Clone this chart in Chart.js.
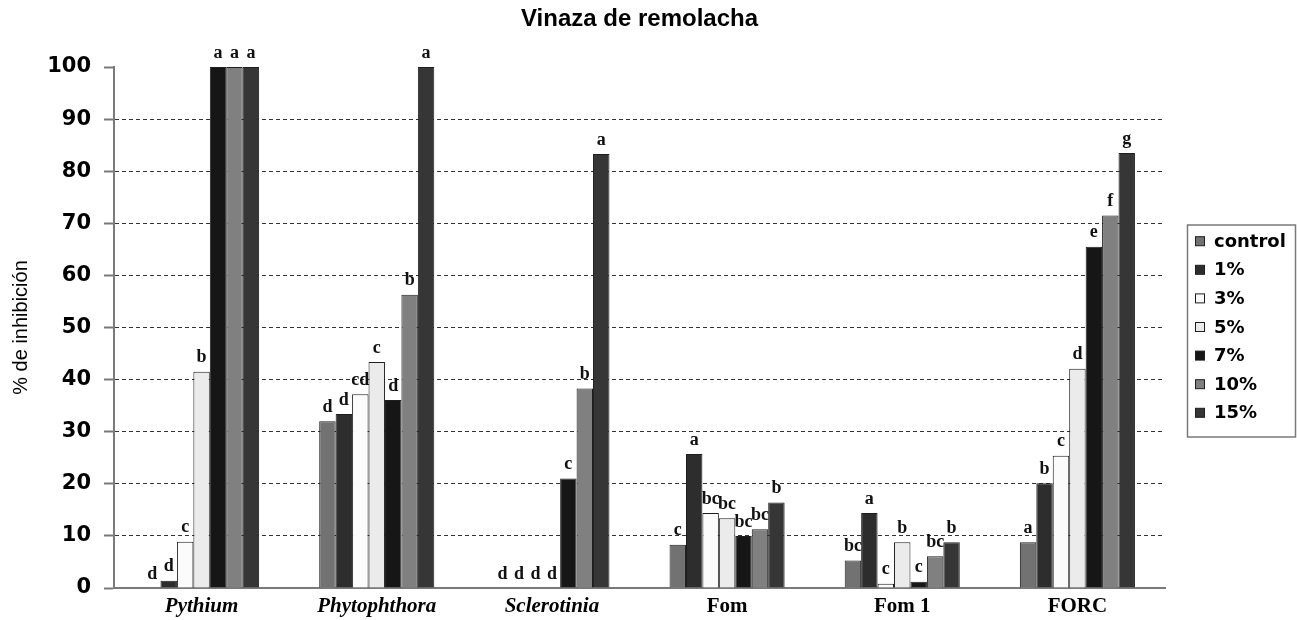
<!DOCTYPE html>
<html>
<head>
<meta charset="utf-8">
<script src="https://cdn.jsdelivr.net/npm/chart.js@4.4.1/dist/chart.umd.min.js"></script>
<style>
  html, body { margin: 0; padding: 0; background: #fff; }
  #wrap { width: 1297px; height: 620px; }
</style>
</head>
<body>
<div id="wrap"><canvas id="c" width="1297" height="620"></canvas></div>
<script>
const chartTitle = 'Vinaza de remolacha';
const categories = ['Pythium', 'Phytophthora', 'Sclerotinia', 'Fom', 'Fom 1', 'FORC'];
const seriesNames = ['control', '1%', '3%', '5%', '7%', '10%', '15%'];

const control = [0, 32.0, 0, 8.3, 5.3, 8.8];
const pct1  = [1.4, 33.4, 0, 25.7, 14.4, 20.1];
const pct3  = [8.9, 37.2, 0, 14.4, 0.8, 25.4];
const pct5  = [41.5, 43.4, 0, 13.4, 8.8, 42.1];
const pct7  = [100, 36.1, 21.0, 10.0, 1.2, 65.5];
const pct10 = [100, 56.3, 38.3, 11.3, 6.1, 71.5];
const pct15 = [100, 100, 83.3, 16.4, 8.8, 83.5];

const letControl = ['d', 'd', 'd', 'c', 'bc', 'a'];
const let1  = ['d', 'd', 'd', 'a', 'a', 'b'];
const let3  = ['c', 'cd', 'd', 'bc', 'c', 'c'];
const let5  = ['b', 'c', 'd', 'bc', 'b', 'd'];
const let7  = ['a', 'd', 'c', 'bc', 'c', 'e'];
const let10 = ['a', 'b', 'b', 'bc', 'bc', 'f'];
const let15 = ['a', 'a', 'a', 'b', 'b', 'g'];

const yTicks = [0, 10, 20, 30, 40, 50, 60, 70, 80, 90, 100];

const seriesValues = [control, pct1, pct3, pct5, pct7, pct10, pct15];
const seriesLetters = [letControl, let1, let3, let5, let7, let10, let15];
const seriesColors = ['#727272', '#2d2d2d', '#fbfbfb', '#ebebeb', '#161616', '#808080', '#363636'];

const datasets = seriesNames.map((name, i) => ({
  label: name,
  data: seriesValues[i],
  letters: seriesLetters[i],
  backgroundColor: seriesColors[i],
  borderColor: '#1e1e1e',
  borderWidth: 1,
  borderSkipped: 'bottom',
  barPercentage: 1.0,
  categoryPercentage: 0.657
}));

const letterPlugin = {
  id: 'letters',
  afterDatasetsDraw(chart) {
    const ctx = chart.ctx;
    ctx.save();
    ctx.font = 'bold 18px "Liberation Serif", "DejaVu Serif", serif';
    ctx.fillStyle = '#111';
    ctx.textAlign = 'center';
    ctx.textBaseline = 'bottom';
    chart.data.datasets.forEach((ds, i) => {
      const meta = chart.getDatasetMeta(i);
      meta.data.forEach((bar, j) => {
        const t = ds.letters[j];
        if (t) ctx.fillText(t, bar.x, bar.y - 5);
      });
    });
    ctx.restore();
  }
};

const titlePlugin = {
  id: 'centerTitle',
  afterDraw(chart) {
    const ctx = chart.ctx;
    const area = chart.chartArea;
    ctx.save();
    ctx.font = 'bold 24px "Liberation Sans", Arial, sans-serif';
    ctx.fillStyle = '#000';
    ctx.textAlign = 'center';
    ctx.textBaseline = 'middle';
    ctx.fillText(chartTitle, (area.left + area.right) / 2, 19);
    ctx.restore();
  }
};

const legendPlugin = {
  id: 'boxLegend',
  afterDraw(chart) {
    const ctx = chart.ctx;
    const area = chart.chartArea;
    const left = area.right + 22;
    const width = 108;
    const rowH = 28.6;
    const height = 212;
    const top = (area.top + area.bottom) / 2 - height / 2 + 3;
    ctx.save();
    ctx.strokeStyle = '#7a7a7a';
    ctx.lineWidth = 1.5;
    ctx.strokeRect(left + 0.5, top + 0.5, width, height);
    ctx.font = 'bold 18px "DejaVu Sans", sans-serif';
    ctx.textBaseline = 'middle';
    ctx.textAlign = 'left';
    chart.data.datasets.forEach((ds, i) => {
      const cy = top + 16.7 + i * rowH;
      ctx.fillStyle = ds.backgroundColor;
      ctx.fillRect(left + 8.5, cy - 4.5, 9, 9);
      ctx.strokeStyle = '#1e1e1e';
      ctx.lineWidth = 1;
      ctx.strokeRect(left + 8.5, cy - 4.5, 9, 9);
      ctx.fillStyle = '#000';
      ctx.fillText(ds.label, left + 27, cy + 1);
    });
    ctx.restore();
  }
};

new Chart(document.getElementById('c'), {
  type: 'bar',
  data: { labels: categories, datasets },
  plugins: [letterPlugin, titlePlugin, legendPlugin],
  options: {
    responsive: false,
    animation: false,
    layout: { padding: { left: 0, right: 132, top: 67, bottom: 0 } },
    plugins: {
      legend: { display: false },
      tooltip: { enabled: false },
      title: { display: false }
    },
    scales: {
      x: {
        afterFit(scale) { scale.height = 32; },
        grid: { display: false, drawTicks: false },
        border: { display: true, color: '#7a7a7a', width: 2 },
        ticks: {
          color: '#000',
          padding: 6,
          font: (c) => ({
            family: '"Liberation Serif", "DejaVu Serif", serif',
            weight: 'bold',
            size: 21,
            style: c.index < 3 ? 'italic' : 'normal'
          })
        }
      },
      y: {
        min: 0,
        max: 100,
        afterBuildTicks(scale) { scale.ticks = yTicks.map(v => ({ value: v })); },
        afterFit(scale) { scale.width = 114; },
        grid: {
          color: (c) => (c.tick && (c.tick.value === 0 || c.tick.value === 100)) ? 'rgba(0,0,0,0)' : '#333333',
          lineWidth: 1,
          tickColor: '#7a7a7a',
          tickLength: 10,
          tickWidth: 2,
          tickBorderDash: []
        },
        border: { display: true, color: '#7a7a7a', width: 2, dash: [4, 3] },
        ticks: {
          color: '#000',
          padding: 13,
          font: { family: '"DejaVu Sans", sans-serif', weight: 'bold', size: 21 }
        },
        title: {
          display: true,
          text: '% de inhibición',
          color: '#000',
          padding: { top: 9, bottom: 0 },
          font: { family: '"Liberation Sans", Arial, sans-serif', size: 20 }
        }
      }
    }
  }
});
</script>
</body>
</html>
